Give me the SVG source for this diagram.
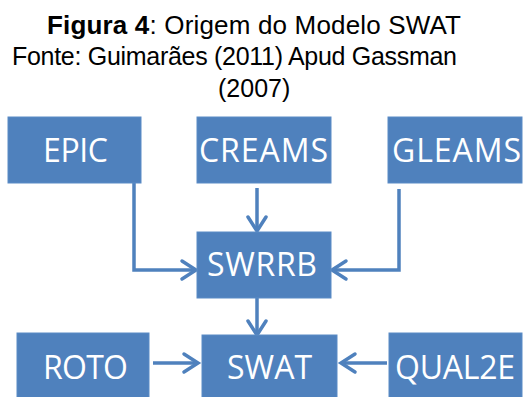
<svg xmlns="http://www.w3.org/2000/svg" width="523" height="397" viewBox="0 0 523 397">
  <style>
    .title { font-family: "Liberation Sans", Arial, sans-serif; font-size: 25px; fill: #000; }
    .title .b { font-weight: bold; }
    .title.big { font-size: 26px; }
    .box { fill: #4F81BD; stroke: #5B8BC6; stroke-width: 1; }
    .lbl { font-family: "Open Sans", "Liberation Sans", sans-serif; font-size: 32px; fill: #FFFFFF; text-anchor: middle; }
    .conn { fill: none; stroke: #4F81BD; stroke-width: 3.5; stroke-linejoin: miter; }
  </style>
  <defs>
    <marker id="chev" markerUnits="userSpaceOnUse" markerWidth="22" markerHeight="24" refX="16" refY="11" orient="auto" overflow="visible">
      <path d="M2,2 L16,11 L2,20" fill="none" stroke="#4F81BD" stroke-width="3.5" stroke-linecap="round" stroke-linejoin="miter"/>
    </marker>
  </defs>

  <rect width="523" height="397" fill="#FFFFFF"/>

  <!-- caption -->
  <g id="caption">
    <text class="title big" x="47" y="33.5" textLength="414"><tspan class="b">Figura 4</tspan>: Origem do Modelo SWAT</text>
    <text class="title" x="12" y="65" textLength="445">Fonte: Guimarães (2011) Apud Gassman</text>
    <text class="title" x="218" y="97">(2007)</text>
  </g>

  <!-- connectors -->
  <g id="connectors">
    <path class="conn" d="M134,182 V270 H196" marker-end="url(#chev)"/>
    <path class="conn" d="M399,189 V270 H332" marker-end="url(#chev)"/>
    <path class="conn" d="M257,188 V231" marker-end="url(#chev)"/>
    <path class="conn" d="M257,298 V335" marker-end="url(#chev)"/>
    <path class="conn" d="M153,363 H198" marker-end="url(#chev)"/>
    <path class="conn" d="M387,363 H341" marker-end="url(#chev)"/>
  </g>

  <!-- nodes -->
  <g id="epic">
    <rect class="box" x="8" y="117" width="133" height="66"/>
    <text class="lbl" x="75.5" y="162" textLength="65">EPIC</text>
  </g>
  <g id="creams">
    <rect class="box" x="197" y="117" width="134" height="66"/>
    <text class="lbl" x="263.5" y="162" textLength="129">CREAMS</text>
  </g>
  <g id="gleams">
    <rect class="box" x="388" y="117" width="134" height="66"/>
    <text class="lbl" x="456.5" y="162" textLength="129">GLEAMS</text>
  </g>
  <g id="swrrb">
    <rect class="box" x="197" y="232" width="134" height="66"/>
    <text class="lbl" x="262" y="276" textLength="110">SWRRB</text>
  </g>
  <g id="roto">
    <rect class="box" x="17" y="333" width="132" height="70"/>
    <text class="lbl" x="85.5" y="379" textLength="85">ROTO</text>
  </g>
  <g id="swat">
    <rect class="box" x="202" y="335" width="135" height="70"/>
    <text class="lbl" x="269.5" y="379" textLength="85">SWAT</text>
  </g>
  <g id="qual2e">
    <rect class="box" x="389" y="333" width="133" height="70"/>
    <text class="lbl" x="455" y="379" textLength="120">QUAL2E</text>
  </g>
</svg>
